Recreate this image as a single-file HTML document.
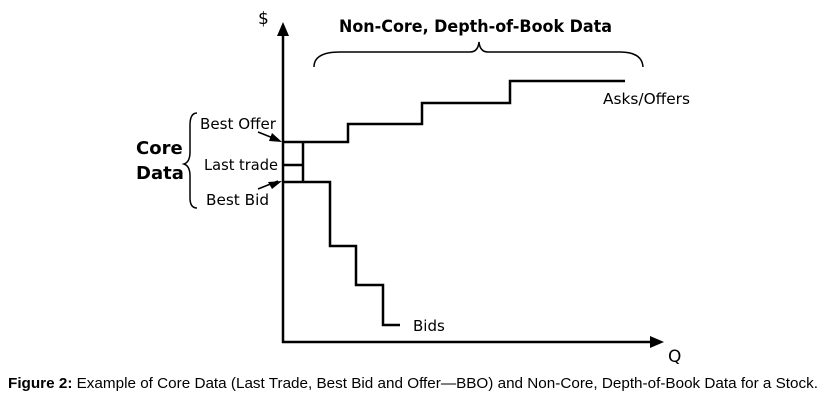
<!DOCTYPE html>
<html><head><style>
body{margin:0;background:#fff;width:824px;height:403px;overflow:hidden}
svg{position:absolute;left:0;top:0}
.c{font-family:"DejaVu Sans","Liberation Sans",sans-serif}
</style></head><body>
<svg width="824" height="403" viewBox="0 0 824 403">
<g stroke="#000" stroke-width="2.5" fill="none">
<line x1="283" y1="343" x2="283" y2="34"/>
<line x1="282" y1="342" x2="652" y2="342"/>
<polyline points="283,142 348,142 348,124 422,124 422,103 510,103 510,81 625,81"/>
<line x1="303" y1="142" x2="303" y2="182"/>
<line x1="283" y1="165" x2="303" y2="165"/>
<polyline points="283,182 330,182 330,246 356,246 356,285 383,285 383,325 400,325"/>
</g>
<polygon points="283,22 277,36 289,36" fill="#000"/>
<polygon points="664,342 650,336 650,348" fill="#000"/>
<g stroke="#000" stroke-width="1.5" fill="none">
<path d="M314,67 Q314,52 340,52 L470,52 Q478,52 479,42 Q480,52 488,52 L620,52 Q642,52 643,67"/>
<path d="M197,113 Q190,113 190,125 L190,152 Q190,162 184,164 Q190,166 190,176 L190,198 Q190,208 197,208"/>
<line x1="258" y1="132" x2="278" y2="140"/>
<line x1="258" y1="189" x2="278" y2="181"/>
</g>
<polygon points="282,142 272,133 269,141" fill="#000"/>
<polygon points="282,181 268,182 272,189" fill="#000"/>
<g class="c" font-size="15" fill="#000">
<text x="258" y="24" font-size="17">$</text>
<text x="339" y="32" font-size="17" font-weight="bold" textLength="273" lengthAdjust="spacingAndGlyphs">Non-Core, Depth-of-Book Data</text>
<text x="603" y="104" textLength="87" lengthAdjust="spacingAndGlyphs">Asks/Offers</text>
<text x="200" y="129" textLength="76" lengthAdjust="spacingAndGlyphs">Best Offer</text>
<text x="204" y="170" textLength="74" lengthAdjust="spacingAndGlyphs">Last trade</text>
<text x="206" y="205" textLength="63" lengthAdjust="spacingAndGlyphs">Best Bid</text>
<text x="413" y="331">Bids</text>
<text x="668" y="362" font-size="17">Q</text>
<text x="136" y="154" font-size="18" font-weight="bold">Core</text>
<text x="136" y="179" font-size="18" font-weight="bold">Data</text>
</g>
<text x="8" y="388" font-family="'Liberation Sans',sans-serif" font-size="14.5" fill="#000" textLength="810" lengthAdjust="spacingAndGlyphs"><tspan font-weight="bold">Figure 2:</tspan> Example of Core Data (Last Trade, Best Bid and Offer—BBO) and Non-Core, Depth-of-Book Data for a Stock.</text>
</svg>
</body></html>
